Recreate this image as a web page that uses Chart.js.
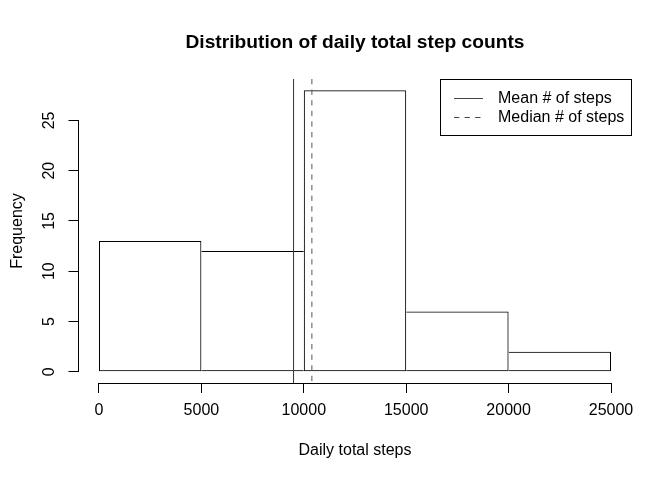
<!DOCTYPE html>
<html>
<head>
<meta charset="utf-8">
<script src="https://cdn.jsdelivr.net/npm/chart.js@4.4.1/dist/chart.umd.min.js"></script>
<style>
html, body { margin: 0; padding: 0; background: #fff; }
#wrap { width: 672px; height: 480px; }
</style>
</head>
<body>
<div id="wrap"><canvas id="histChart" width="672" height="480"></canvas></div>
<script>
// histogram bins (mid points) and counts
const binMids = [2500, 7500, 12500, 17500, 22500];
const binCounts = [13, 12, 28, 6, 2];
const xTickValues = [0, 5000, 10000, 15000, 20000, 25000];
const yTickValues = [0, 5, 10, 15, 20, 25];
const xRange = [-1000, 26000];
const yRange = [-1.12, 29.12];
const meanSteps = 9500;
const medianSteps = 10395;
const legendLabels = ['Mean # of steps', 'Median # of steps'];
const legendDashes = [[], [5.3, 5.3]];

const fontFamily = '"Liberation Sans", Arial, Helvetica, sans-serif';

// R style extras: axis lines between first and last tick, ablines, boxed legend
const rPlot = {
    id: 'rPlot',
    afterDatasetsDraw(chart) {
        const ctx = chart.ctx;
        const area = chart.chartArea;
        const xs = chart.scales.x;
        const ys = chart.scales.y;

        ctx.save();
        ctx.strokeStyle = '#000';
        ctx.lineWidth = 1;

        ctx.beginPath();
        const xAxisY = Math.round(area.bottom) + 0.5;
        ctx.moveTo(xs.getPixelForValue(xTickValues[0]), xAxisY);
        ctx.lineTo(xs.getPixelForValue(xTickValues[xTickValues.length - 1]), xAxisY);
        const yAxisX = Math.round(area.left) - 0.5;
        ctx.moveTo(yAxisX, ys.getPixelForValue(yTickValues[0]));
        ctx.lineTo(yAxisX, ys.getPixelForValue(yTickValues[yTickValues.length - 1]));
        ctx.stroke();

        [meanSteps, medianSteps].forEach(function (v, i) {
            const px = xs.getPixelForValue(v);
            ctx.setLineDash(legendDashes[i]);
            ctx.strokeStyle = i === 0 ? '#333' : '#555';
            ctx.beginPath();
            ctx.moveTo(px, area.top);
            ctx.lineTo(px, area.bottom);
            ctx.stroke();
        });
        ctx.setLineDash([]);

        // legend, top right corner of plot region
        ctx.font = '16px ' + fontFamily;
        let textW = 0;
        legendLabels.forEach(function (t) {
            textW = Math.max(textW, ctx.measureText(t).width);
        });
        const rowH = 19.2;
        const boxR = Math.floor(area.right) + 0.5;
        const boxW = Math.round(14 + 29 + 15 + textW + 7);
        const boxL = boxR - boxW;
        const boxT = Math.round(area.top) + 0.5;
        const boxH = 56;
        ctx.strokeStyle = '#000';
        ctx.strokeRect(boxL, boxT, boxW, boxH);

        ctx.fillStyle = '#000';
        ctx.textBaseline = 'middle';
        ctx.textAlign = 'left';
        legendLabels.forEach(function (t, i) {
            const cy = area.top + rowH * (i + 1);
            ctx.setLineDash(legendDashes[i]);
            ctx.strokeStyle = '#444';
            ctx.beginPath();
            ctx.moveTo(boxL + 13.5, Math.round(cy) + 0.5);
            ctx.lineTo(boxL + 42.5, Math.round(cy) + 0.5);
            ctx.stroke();
            ctx.setLineDash([]);
            ctx.fillText(t, boxL + 57.5, cy);
        });
        ctx.restore();
    }
};

new Chart(document.getElementById('histChart'), {
    type: 'bar',
    data: {
        datasets: [
            {
                label: 'Frequency',
                data: binMids.map(function (m, i) { return { x: m, y: binCounts[i] }; }),
                backgroundColor: 'rgba(255, 255, 255, 0)',
                borderColor: '#000',
                borderWidth: function (c) {
                    const i = c.dataIndex;
                    const cur = binCounts[i];
                    const prev = i > 0 ? binCounts[i - 1] : -1;
                    const next = i < binCounts.length - 1 ? binCounts[i + 1] : -1;
                    return { top: 1, bottom: 1, left: prev <= cur ? 1 : 0, right: next < cur ? 1 : 0 };
                },
                borderSkipped: false,
                inflateAmount: 0,
                barPercentage: 1,
                categoryPercentage: 1
            }
        ]
    },
    options: {
        responsive: false,
        animation: false,
        events: [],
        layout: { padding: { left: 0, right: 40.5, top: 0, bottom: 0 } },
        plugins: {
            legend: { display: false },
            tooltip: { enabled: false },
            title: {
                display: true,
                fullSize: false,
                text: 'Distribution of daily total step counts',
                color: '#000',
                font: { family: fontFamily, size: 19.2, weight: 'bold', lineHeight: 1.2 },
                padding: { top: 31, bottom: 24.96 }
            }
        },
        scales: {
            x: {
                type: 'linear',
                min: xRange[0],
                max: xRange[1],
                offset: false,
                afterBuildTicks: function (s) {
                    s.ticks = xTickValues.map(function (v) { return { value: v }; });
                },
                afterFit: function (s) { s.height = 97; },
                grid: { offset: false, drawOnChartArea: false, drawTicks: true, tickLength: 10, color: '#000' },
                border: { display: false },
                ticks: {
                    color: '#000',
                    font: { family: fontFamily, size: 16 },
                    padding: 8,
                    maxRotation: 0,
                    autoSkip: false,
                    callback: function (v) { return String(v); }
                },
                title: {
                    display: true,
                    text: 'Daily total steps',
                    color: '#000',
                    font: { family: fontFamily, size: 16 },
                    padding: { top: 0, bottom: 19.5 }
                }
            },
            y: {
                min: yRange[0],
                max: yRange[1],
                afterBuildTicks: function (s) {
                    s.ticks = yTickValues.map(function (v) { return { value: v }; });
                },
                afterFit: function (s) { s.width = 78.5; },
                grid: { drawOnChartArea: false, drawTicks: true, tickLength: 10, color: '#000' },
                border: { display: false },
                ticks: {
                    color: '#000',
                    font: { family: fontFamily, size: 16 },
                    padding: 9.6,
                    minRotation: 90,
                    maxRotation: 90,
                    crossAlign: 'center',
                    autoSkip: false
                },
                title: {
                    display: true,
                    text: 'Frequency',
                    color: '#000',
                    font: { family: fontFamily, size: 16 },
                    padding: { top: 8.4, bottom: 0 }
                }
            }
        }
    },
    plugins: [rPlot]
});
</script>
</body>
</html>
